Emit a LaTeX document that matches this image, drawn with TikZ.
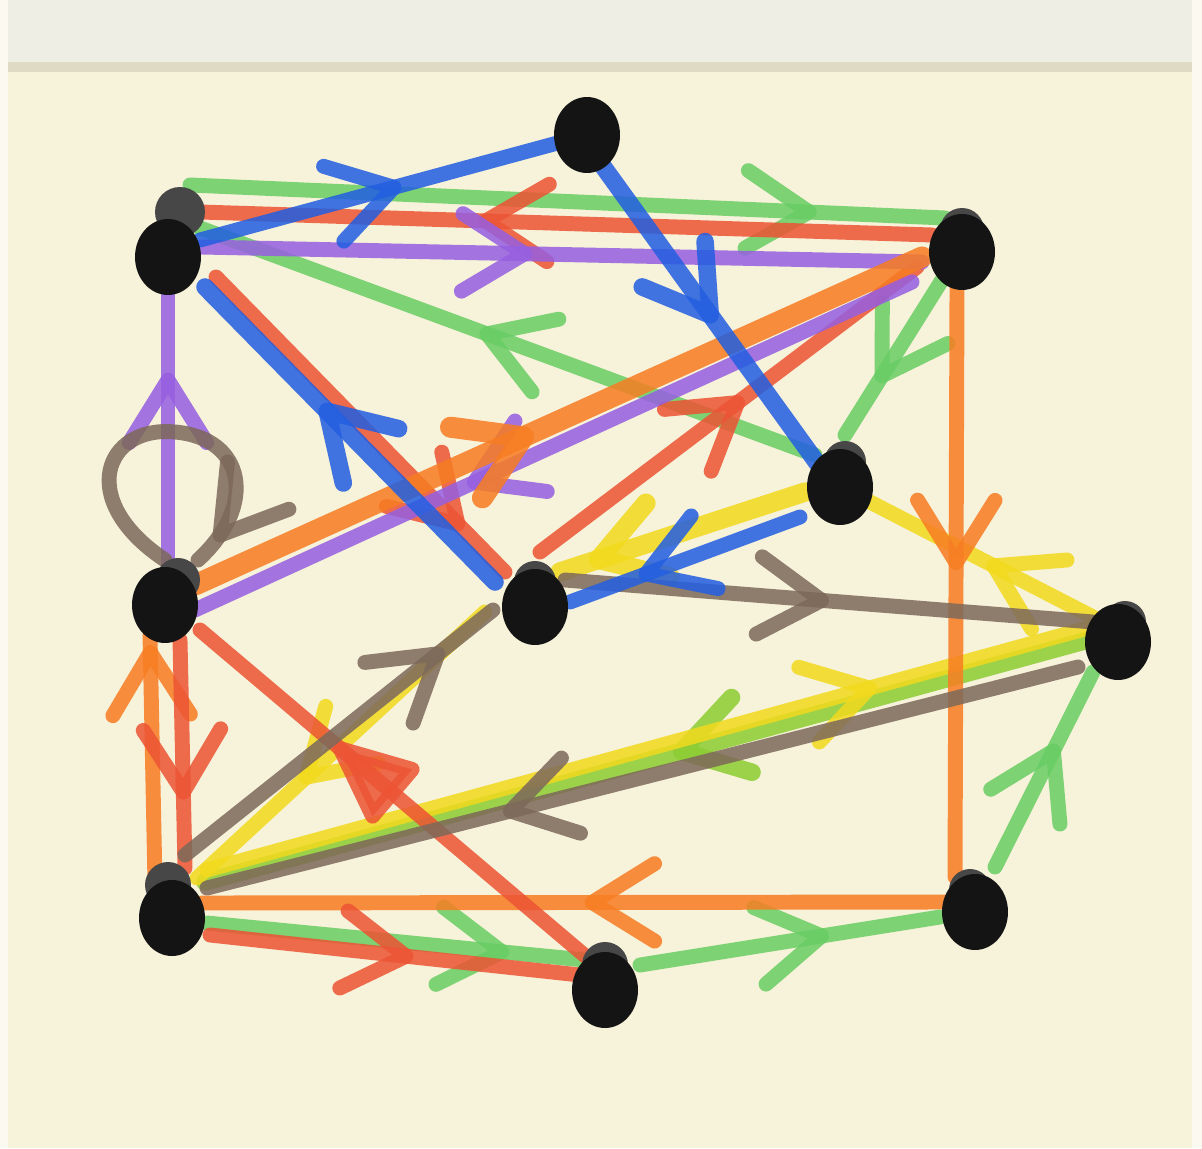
\documentclass[tikz,border=0pt]{standalone}
\usetikzlibrary{arrows.meta,decorations.markings,calc,shapes.geometric}
\pgfdeclarelayer{paper}
\pgfdeclarelayer{background}
\pgfsetlayers{paper,background,main}
\definecolor{paper}{RGB}{247,242,218}
\definecolor{paperedge}{RGB}{238,238,228}
\definecolor{mgreen}{RGB}{105,205,100}
\definecolor{mlime}{RGB}{140,205,50}
\definecolor{mred}{RGB}{236,84,52}
\definecolor{morange}{RGB}{247,125,35}
\definecolor{mpurple}{RGB}{150,95,225}
\definecolor{mblue}{RGB}{35,95,225}
\definecolor{mbrown}{RGB}{125,105,90}
\definecolor{myellow}{RGB}{242,218,30}
\begin{document}
\begin{tikzpicture}[x=0.02cm,y=-0.02cm,
  edge/.style={line width=8.5pt,line cap=round,opacity=0.86},
  arr/.style={postaction={decorate,decoration={markings,
     mark=at position #1 with {\arrow{Straight Barb[length=1.25cm,width=1.55cm,round]}}}}},
  tri/.style={postaction={decorate,decoration={markings,
     mark=at position #1 with {\arrow{Triangle[length=1.9cm,width=1.6cm,round]}}}}},
  blob/.style={ellipse,fill=black!92,minimum width=1.32cm,minimum height=1.52cm,inner sep=0pt},
  capc/.style={fill=black!72}]
\useasboundingbox (0,0) rectangle (1202,1148);
\begin{pgfonlayer}{paper}
\fill[paper] (0,0) rectangle (1202,1148);
\fill[paperedge] (0,0) rectangle (1202,62);
\fill[black!10!paper] (0,62) rectangle (1202,72);
\fill[white!60!paper] (0,0) rectangle (8,1148);
\fill[white!60!paper] (1192,0) rectangle (1202,1148);
\end{pgfonlayer}

% caps (ink blots behind the nodes)
\fill[capc] (180,212) circle[radius=0.5cm];
\fill[capc] (962,230) circle[radius=0.44cm];
\fill[capc] (845,462) circle[radius=0.42cm];
\fill[capc] (178,580) circle[radius=0.44cm];
\fill[capc] (535,582) circle[radius=0.42cm];
\fill[capc] (1125,622) circle[radius=0.42cm];
\fill[capc] (168,885) circle[radius=0.46cm];
\fill[capc] (970,890) circle[radius=0.42cm];
\fill[capc] (605,965) circle[radius=0.46cm];

% nodes
\node[blob] (A) at (587,135) {};
\node[blob] (B) at (168,257) {};
\node[blob] (C) at (962,252) {};
\node[blob] (D) at (840,487) {};
\node[blob] (E) at (165,605) {};
\node[blob] (F) at (535,607) {};
\node[blob] (G) at (1118,642) {};
\node[blob] (H) at (172,918) {};
\node[blob] (I) at (975,912) {};
\node[blob] (J) at (605,990) {};

\begin{pgfonlayer}{background}
% yellow and green first
\draw[edge,mlime,line width=10pt,arr=0.47] ($(G.center)+(-30,-2)$) -- ($(H.center)+(33,-36)$);
\draw[edge,myellow,arr=0.76] ($(H.center)+(35,-48)$) -- ($(G.center)+(-30,-14)$);
\draw[edge,myellow,arr=0.64] ($(F.center)+(-50,5)$) -- ($(H.center)+(25,-40)$);
\draw[edge,myellow,line width=11pt,arr=0.88] ($(D.center)+(-35,5)$) -- ($(F.center)+(25,-35)$);
\draw[edge,myellow,arr=0.475] ($(G.center)+(-25,-25)$) -- ($(D.center)+(30,15)$);
\draw[edge,mgreen,arr=0.83] ($(B.center)+(22,-72)$) -- ($(C.center)+(-17,-34)$);
\draw[edge,mgreen,arr=0.545] ($(D.center)+(-25,-32)$) -- ($(B.center)+(32,-29)$);
\draw[edge,mgreen,arr=0.66] ($(C.center)+(-20,28)$) -- ($(D.center)+(5,-52)$);
\draw[edge,mgreen,arr=0.63] ($(I.center)+(20,-45)$) -- ($(G.center)+(-25,30)$);
\draw[edge,mgreen,arr=0.63] ($(J.center)+(35,-25)$) -- ($(I.center)+(-35,5)$);
\draw[edge,mgreen,arr=0.80] ($(H.center)+(35,5)$) -- ($(J.center)+(-20,-30)$);
% orange
\draw[edge,morange,arr=0.48] ($(C.center)+(-5,35)$) -- ($(I.center)+(-20,-35)$);
\draw[edge,morange,arr=0.485] ($(I.center)+(-30,-10)$) -- ($(H.center)+(30,-15)$);
\draw[edge,morange,arr=0.96] ($(H.center)+(-17,-35)$) -- ($(E.center)+(-15,30)$);
% red
\draw[edge,mred,arr=0.62] ($(C.center)+(-30,-17)$) -- ($(B.center)+(32,-45)$);
\draw[edge,mred,arr=0.54] ($(F.center)+(5,-55)$) -- ($(C.center)+(-45,15)$);
\draw[edge,mred,arr=0.855] ($(B.center)+(48,20)$) -- ($(F.center)+(-30,-35)$);
\draw[edge,mred,tri=0.655] ($(J.center)+(-15,-30)$) -- ($(E.center)+(35,25)$);
\draw[edge,mred,arr=0.70] ($(E.center)+(15,35)$) -- ($(H.center)+(13,-50)$);
\draw[edge,mred,arr=0.55] ($(H.center)+(38,17)$) -- ($(J.center)+(-25,-15)$);
% purple
\draw[edge,mpurple,arr=0.46] ($(B.center)+(32,-10)$) -- ($(C.center)+(-40,10)$);
\draw[edge,mpurple,arr=0.62] ($(C.center)+(-50,30)$) -- ($(E.center)+(30,5)$);
\draw[edge,mpurple,arr=0.71] ($(E.center)+(3,-35)$) -- ($(B.center)+(0,35)$);
\draw[edge,morange,line width=12pt,arr=0.465] ($(E.center)+(30,-20)$) -- ($(C.center)+(-40,5)$);
% brown
\draw[edge,mbrown,arr=0.84] ($(H.center)+(13,-63)$) -- ($(F.center)+(-42,3)$);
\draw[edge,mbrown,arr=0.50] ($(F.center)+(30,-27)$) -- ($(G.center)+(-25,-20)$);
\draw[edge,mbrown,arr=0.66] ($(G.center)+(-40,25)$) -- ($(H.center)+(35,-30)$);
\draw[edge,mbrown,arr=0.93] ($(E.center)+(0,-45)$) .. controls (75,500) and (105,425) .. (175,432)
   .. controls (245,438) and (258,505) .. ($(E.center)+(33,-45)$);
% blue
\draw[edge,mblue,arr=0.52] ($(B.center)+(32,-17)$) -- (A.center);
\draw[edge,mblue,line width=10pt,arr=0.52] ($(A.center)+(15,30)$) -- ($(D.center)+(-20,-20)$);
\draw[edge,mblue,line width=10pt,arr=0.60] ($(F.center)+(-40,-25)$) -- ($(B.center)+(37,30)$);
\draw[edge,mblue,arr=0.70] ($(D.center)+(-40,30)$) -- ($(F.center)+(35,-5)$);
\end{pgfonlayer}
\end{tikzpicture}
\end{document}
